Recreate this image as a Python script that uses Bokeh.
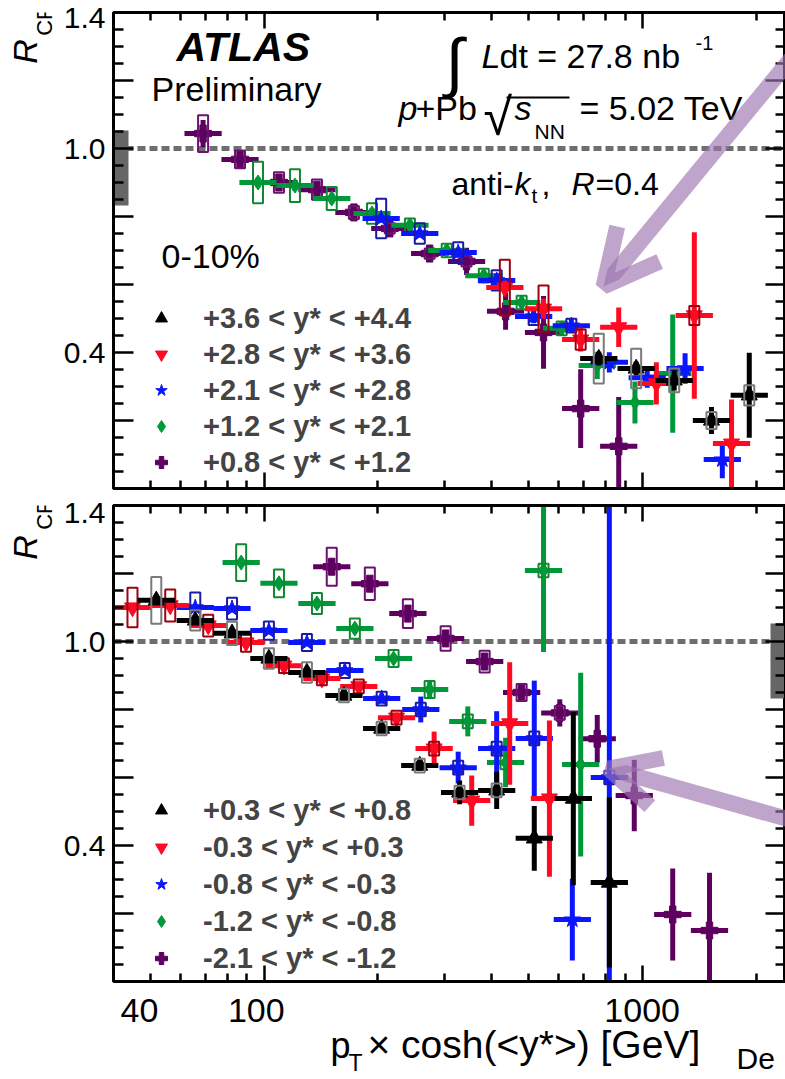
from bokeh.plotting import figure
from bokeh.layouts import column, row
from bokeh.models import (FixedTicker, CustomJSTickFormatter, LinearAxis, LogAxis, Span, Label,
                          Legend, LegendItem, Arrow, OpenHead, BoxAnnotation, Range1d)
from bokeh.embed import file_html
from bokeh.resources import INLINE
import json

FONT = "Liberation Sans"

# ---------------- axes ----------------
X_START, X_END = 40, 2390
Y_START, Y_END = 0.0, 1.4
x_tick_values = [100, 1000]
x_minor_ticks = [50, 60, 70, 80, 90, 200, 300, 400, 500, 600, 700, 800, 900, 2000]
x_label_values = [40, 100, 1000]
x_label_texts = ["40", "100", "1000"]
y_tick_values = [0.2, 0.4, 0.6, 0.8, 1.0, 1.2, 1.4]
y_tick_labels = [" ", "0.4", " ", " ", "1.0", " ", "1.4"]
y_minor_ticks = [round(0.05 * i, 2) for i in range(1, 28) if i % 4]
norm_box = (0.832, 1.053)

# ---------------- top panel: 0-10%, forward rapidities ----------------
t_black_label = "+3.6 < y* < +4.4"
t_black_x = [767, 963, 1214, 1523, 1917]
t_black_y = [0.382, 0.353, 0.318, 0.200, 0.274]
t_black_err = [0.02, 0.02, 0.03, 0.04, 0.125]
t_black_sys = [0.073, 0.058, 0.035, 0.025, 0.03]

t_red_label = "+2.8 < y* < +3.6"
t_red_x = [433, 548, 687, 866, 1089, 1372, 1721]
t_red_y = [0.591, 0.529, 0.438, 0.474, 0.309, 0.509, 0.132]
t_red_err = [0.02, 0.03, 0.035, 0.058, 0.062, 0.245, 0.13]
t_red_sys = [0.082, 0.068, 0.03, 0.0, 0.0, 0.028, 0.0]

t_blue_label = "+2.1 < y* < +2.8"
t_blue_x = [204, 258, 326, 412, 516, 649, 818, 1030, 1297, 1627]
t_blue_y = [0.794, 0.75, 0.694, 0.612, 0.506, 0.479, 0.371, 0.326, 0.353, 0.085]
t_blue_err = [0.012, 0.012, 0.015, 0.02, 0.02, 0.02, 0.03, 0.03, 0.045, 0.055]
t_blue_sys = [0.058, 0.03, 0.03, 0.03, 0.025, 0.02, 0.0, 0.0, 0.0, 0.0]

t_green_label = "+1.2 < y* < +2.1"
t_green_x = [96.4, 120.7, 151, 192.9, 243, 304, 381, 479.6, 612, 760, 956, 1203]
t_green_y = [0.9, 0.891, 0.853, 0.809, 0.774, 0.7, 0.626, 0.547, 0.471, 0.362, 0.253, 0.338]
t_green_err = [0.015, 0.015, 0.015, 0.015, 0.015, 0.015, 0.015, 0.015, 0.02, 0.04, 0.062, 0.174]
t_green_sys = [0.061, 0.048, 0.034, 0.03, 0.02, 0.02, 0.02, 0.02, 0.02, 0.0, 0.0, 0.0]

t_purple_label = "+0.8 < y* < +1.2"
t_purple_x = [69.0, 86.4, 109.5, 138, 172.8, 215, 274, 343, 435, 548, 687, 866]
t_purple_y = [1.044, 0.968, 0.9, 0.879, 0.812, 0.765, 0.691, 0.668, 0.521, 0.459, 0.235, 0.124]
t_purple_err = [0.04, 0.025, 0.015, 0.015, 0.012, 0.015, 0.02, 0.04, 0.054, 0.107, 0.116, 0.145]
t_purple_sys = [0.054, 0.026, 0.03, 0.03, 0.019, 0.015, 0.015, 0.015, 0.0, 0.0, 0.0, 0.0]

# ---------------- bottom panel: backward rapidities ----------------
b_black_label = "+0.3 < y* < +0.8"
b_black_x = [51.9, 65.8, 82.3, 103, 129.8, 162.6, 204.6, 258, 328.8, 412, 518, 657, 818]
b_black_y = [1.121, 1.062, 1.024, 0.95, 0.909, 0.841, 0.744, 0.635, 0.556, 0.562, 0.421, 0.538, 0.291]
b_black_err = [0.01, 0.01, 0.01, 0.01, 0.01, 0.01, 0.012, 0.015, 0.035, 0.055, 0.095, 0.255, 0.25]
b_black_sys = [0.069, 0.03, 0.034, 0.03, 0.03, 0.02, 0.02, 0.02, 0.02, 0.02, 0.0, 0.0, 0.0]

b_red_label = "-0.3 < y* < +0.3"
b_red_x = [44.9, 56.5, 71.2, 89.6, 112.9, 142.2, 178, 224, 281.6, 354, 446, 568]
b_red_y = [1.1, 1.106, 1.047, 0.997, 0.929, 0.891, 0.868, 0.776, 0.685, 0.532, 0.759, 0.538]
b_red_err = [0.01, 0.01, 0.01, 0.01, 0.01, 0.01, 0.01, 0.015, 0.05, 0.074, 0.18, 0.23]
b_red_sys = [0.058, 0.047, 0.032, 0.027, 0.022, 0.02, 0.02, 0.02, 0.02, 0.0, 0.0, 0.0]

b_blue_label = "-0.8 < y* < -0.3"
b_blue_x = [65.8, 82.3, 103, 129.8, 163.5, 204.6, 259.6, 326, 412, 518, 653, 818]
b_blue_y = [1.1, 1.097, 1.032, 0.997, 0.915, 0.832, 0.8, 0.629, 0.685, 0.715, 0.182, 0.6]
b_blue_err = [0.01, 0.01, 0.01, 0.01, 0.01, 0.015, 0.038, 0.047, 0.11, 0.17, 0.12, 0.81]
b_blue_sys = [0.044, 0.032, 0.027, 0.025, 0.022, 0.02, 0.02, 0.02, 0.02, 0.02, 0.0, 0.02]

b_green_label = "-1.2 < y* < -0.8"
b_green_x = [87, 109.5, 138, 173.8, 220, 274, 345.6, 435, 548, 687]
b_green_y = [1.232, 1.171, 1.112, 1.038, 0.95, 0.859, 0.765, 0.644, 1.209, 0.638]
b_green_err = [0.01, 0.01, 0.01, 0.01, 0.012, 0.025, 0.044, 0.073, 0.24, 0.27]
b_green_sys = [0.054, 0.041, 0.031, 0.03, 0.025, 0.025, 0.02, 0.02, 0.02, 0.0]

b_purple_label = "-2.1 < y* < -1.2"
b_purple_x = [151, 190.4, 240, 302, 383, 479.6, 605, 760, 952, 1203, 1505]
b_purple_y = [1.22, 1.17, 1.082, 1.009, 0.941, 0.85, 0.79, 0.714, 0.547, 0.197, 0.15]
b_purple_err = [0.01, 0.01, 0.01, 0.01, 0.012, 0.02, 0.04, 0.07, 0.105, 0.135, 0.17]
b_purple_sys = [0.056, 0.048, 0.042, 0.036, 0.032, 0.025, 0.02, 0.0, 0.0, 0.0, 0.0]

# ---------------- styles ----------------
BAR_F = 1.12
C_BLACK, S_BLACK = "#000000", "#7a7a7a"
C_RED, S_RED = "#ff0a22", "#a0000f"
C_BLUE, S_BLUE = "#0b16ff", "#1a1aa6"
C_GREEN, S_GREEN = "#00993a", "#10882f"
C_PURPLE, S_PURPLE = "#5e005f", "#6d1070"
ARROW_COLOR = "#9d74b0"
BASE_K = 0.37   # compensation of the text baseline placement

STRIP_W = 60
P1_H, P2_H = 495, 490
B_H = 1079 - P1_H - P2_H
F1_BOTTOM = 488          # page y of top frame bottom

x_rng = Range1d(X_START, X_END)

y_fmt_code = ("const v=%s; const l=%s; for (let i=0;i<v.length;i++){ if (Math.abs(tick-v[i])<1e-6) return l[i]; } return ' ';"
              % (json.dumps(y_tick_values), json.dumps(y_tick_labels)))


def style_axis(ax, major_in, minor_in, labels, size="30px", standoff=8):
    ax.axis_line_width = 3
    ax.axis_line_color = "black"
    ax.major_tick_in = major_in
    ax.major_tick_out = 0
    ax.minor_tick_in = minor_in
    ax.minor_tick_out = 0
    ax.major_tick_line_width = 2.5
    ax.minor_tick_line_width = 2.5
    ax.major_tick_line_color = "black"
    ax.minor_tick_line_color = "black"
    ax.major_label_text_font = FONT
    ax.major_label_text_color = "black"
    if labels:
        ax.major_label_text_font_size = size
        ax.major_label_standoff = standoff
    else:
        ax.major_label_text_font_size = "1px"
        ax.major_label_text_alpha = 0
        ax.major_label_standoff = 0


def make_panel(height, top_border, bottom_border):
    p = figure(width=785 - STRIP_W, height=height, x_axis_type="log",
               x_range=x_rng, y_range=(Y_START, Y_END),
               output_backend="svg", toolbar_location=None,
               min_border_left=112 - STRIP_W, min_border_right=0,
               min_border_top=top_border, min_border_bottom=bottom_border)
    p.grid.visible = False
    p.outline_line_color = "black"
    p.outline_line_width = 3
    p.background_fill_color = "white"
    p.border_fill_color = "white"
    xt = FixedTicker(ticks=x_tick_values, minor_ticks=x_minor_ticks)
    yt = FixedTicker(ticks=y_tick_values, minor_ticks=y_minor_ticks)
    p.xaxis.ticker = xt
    p.yaxis.ticker = yt
    p.yaxis.formatter = CustomJSTickFormatter(code=y_fmt_code)
    style_axis(p.xaxis[0], 16, 8, False)
    style_axis(p.yaxis[0], 20, 10, True, "30px", 8)
    top_ax = LogAxis(ticker=xt)
    style_axis(top_ax, 16, 8, False)
    p.add_layout(top_ax, "above")
    right_ax = LinearAxis(ticker=yt)
    style_axis(right_ax, 20, 10, False)
    p.add_layout(right_ax, "right")
    span = Span(location=1.0, dimension="width", line_color="#6e6e6e", line_width=5,
                line_dash="8 4", level="underlay")
    p.add_layout(span)
    return p


def make_strip(width, height, left_border=0, log_x=False):
    kw = dict(width=width, height=height, output_backend="svg", toolbar_location=None,
              min_border_left=left_border, min_border_right=0, min_border_top=0,
              min_border_bottom=0, x_axis_location=None, y_axis_location=None,
              y_range=(0, height))
    if log_x:
        kw.update(x_range=x_rng, x_axis_type="log")
    else:
        kw.update(x_range=(0, width))
    s = figure(**kw)
    s.grid.visible = False
    s.outline_line_color = None
    s.background_fill_color = "white"
    s.border_fill_color = "white"
    return s


def draw_series(p, x, y, err, sys, color, sys_color, marker, size):
    p.segment(x0=x, y0=[a - e for a, e in zip(y, err)], x1=x, y1=[a + e for a, e in zip(y, err)],
              line_color=color, line_width=5)
    p.segment(x0=[v / BAR_F for v in x], y0=y, x1=[v * BAR_F for v in x], y1=y,
              line_color=color, line_width=5)
    r = p.scatter(x=x, y=y, marker=marker, size=size, fill_color=color, line_color=color)
    sx = [a for a, s in zip(x, sys) if s > 0]
    sy = [b for b, s in zip(y, sys) if s > 0]
    sh = [2 * s for s in sys if s > 0]
    p.rect(x=sx, y=sy, width=10, width_units="screen", height=sh,
           fill_alpha=0, line_color=sys_color, line_width=2)
    return r


def lab(p, text, px, py, size, fb, fl=112, style="normal", align="left"):
    """px: page x of anchor, py: page y of baseline, fb: page y of frame bottom, fl: page x of frame left"""
    p.add_layout(Label(x=px - fl, y=fb - py + BASE_K * size, x_units="screen", y_units="screen",
                       text=text, text_font=FONT, text_font_size="%dpx" % size,
                       text_font_style=style, text_align=align, text_baseline="alphabetic",
                       text_color="black"))


def vlab(p, text, cx, cy, size, fb, style="normal"):
    """vertical text reading upward, centred on page point (cx, cy)"""
    p.add_layout(Label(x=cx, y=fb - cy, x_units="screen", y_units="screen",
                       text=text, text_font=FONT, text_font_size="%dpx" % size,
                       text_font_style=style, text_align="center", text_baseline="middle",
                       angle=1.5708, text_color="black"))


def add_legend(p, items, vy, spacing):
    leg = Legend(items=[LegendItem(label=l, renderers=[r]) for l, r in items],
                 location=(33, vy), border_line_color=None, background_fill_alpha=0,
                 padding=0, margin=0, spacing=spacing, glyph_width=30, glyph_height=34,
                 label_height=34, label_standoff=27, label_text_font=FONT,
                 label_text_font_style="bold", label_text_font_size="29px")
    p.add_layout(leg)


def norm(p, xpos):
    p.rect(x=[xpos], y=[(norm_box[0] + norm_box[1]) / 2], width=30, width_units="screen",
           height=[norm_box[1] - norm_box[0]], fill_color="#666666", line_color=None)


# ================= top panel =================
p1 = make_panel(P1_H, 12, 7)
norm(p1, X_START)
r_pu = draw_series(p1, t_purple_x, t_purple_y, t_purple_err, t_purple_sys, C_PURPLE, S_PURPLE, "plus", 17)
r_gr = draw_series(p1, t_green_x, t_green_y, t_green_err, t_green_sys, C_GREEN, S_GREEN, "diamond", 15)
r_bl = draw_series(p1, t_blue_x, t_blue_y, t_blue_err, t_blue_sys, C_BLUE, S_BLUE, "star", 17)
r_re = draw_series(p1, t_red_x, t_red_y, t_red_err, t_red_sys, C_RED, S_RED, "inverted_triangle", 16)
r_bk = draw_series(p1, t_black_x, t_black_y, t_black_err, t_black_sys, C_BLACK, S_BLACK, "triangle", 16)
add_legend(p1, [(t_black_label, r_bk), (t_red_label, r_re), (t_blue_label, r_bl),
                (t_green_label, r_gr), (t_purple_label, r_pu)], 9, 2)

fb = F1_BOTTOM
lab(p1, "ATLAS", 175, 62, 41, fb, style="bold italic")
lab(p1, "Preliminary", 150, 101, 34, fb)
lab(p1, "\u222b", 444, 86, 66, fb)
lab(p1, "L", 480, 68, 34, fb, style="italic")
lab(p1, "dt = 27.8 nb", 498, 68, 34, fb)
lab(p1, "-1", 694, 50, 20, fb)
lab(p1, "p", 397, 120, 34, fb, style="italic")
lab(p1, "+Pb", 414, 120, 34, fb)
lab(p1, "\u221a", 482, 136, 52, fb)
p1.add_layout(BoxAnnotation(left=505 - 112, right=568 - 112, bottom=fb - 98, top=fb - 96,
                            left_units="screen", right_units="screen",
                            top_units="screen", bottom_units="screen",
                            fill_color="black", fill_alpha=1, line_color=None))
lab(p1, "s", 513, 120, 34, fb, style="italic")
lab(p1, "NN", 533, 139, 21, fb)
lab(p1, "= 5.02 TeV", 578, 120, 34, fb)
lab(p1, "anti-", 450, 195, 32, fb)
lab(p1, "k", 513, 195, 32, fb, style="italic")
lab(p1, "t", 530, 203, 21, fb)
lab(p1, ",", 540, 195, 32, fb)
lab(p1, "R", 570, 195, 32, fb, style="italic")
lab(p1, "=0.4", 594, 195, 32, fb)
lab(p1, "0-10%", 160, 268, 34, fb)
p1.add_layout(Arrow(end=OpenHead(size=55, line_width=16, line_color=ARROW_COLOR, line_alpha=0.65),
                    x_start=690, y_start=445, x_end=490, y_end=202,
                    start_units="screen", end_units="screen",
                    line_width=16, line_color=ARROW_COLOR, line_alpha=0.65))

# ================= bottom panel =================
p2 = make_panel(P2_H, 10, 4)
norm(p2, X_END)
q_pu = draw_series(p2, b_purple_x, b_purple_y, b_purple_err, b_purple_sys, C_PURPLE, S_PURPLE, "plus", 17)
q_gr = draw_series(p2, b_green_x, b_green_y, b_green_err, b_green_sys, C_GREEN, S_GREEN, "diamond", 15)
q_bl = draw_series(p2, b_blue_x, b_blue_y, b_blue_err, b_blue_sys, C_BLUE, S_BLUE, "star", 17)
q_re = draw_series(p2, b_red_x, b_red_y, b_red_err, b_red_sys, C_RED, S_RED, "inverted_triangle", 16)
q_bk = draw_series(p2, b_black_x, b_black_y, b_black_err, b_black_sys, C_BLACK, S_BLACK, "triangle", 16)
add_legend(p2, [(b_black_label, q_bk), (b_red_label, q_re), (b_blue_label, q_bl),
                (b_green_label, q_gr), (b_purple_label, q_pu)], 6, 3)
p2.add_layout(Arrow(end=OpenHead(size=50, line_width=16, line_color=ARROW_COLOR, line_alpha=0.65),
                    x_start=690, y_start=158, x_end=495, y_end=213,
                    start_units="screen", end_units="screen",
                    line_width=16, line_color=ARROW_COLOR, line_alpha=0.65))

# ================= left strips: R_CP =================
L1 = make_strip(STRIP_W, P1_H)
vlab(L1, "R", 24, 58, 34, P1_H, style="italic")
vlab(L1, "CP", 44, 27, 22, P1_H)
L2 = make_strip(STRIP_W, P2_H)
vlab(L2, "R", 24, 551 - P1_H, 34, P2_H, style="italic")
vlab(L2, "CP", 44, 518 - P1_H, 22, P2_H)

# ================= bottom strip: x tick labels and axis title =================
B = make_strip(785, B_H, left_border=112, log_x=True)
BB = 1079   # page y of strip bottom
label_offsets = [27, -7, 0]
for v, t, off in zip(x_label_values, x_label_texts, label_offsets):
    B.add_layout(Label(x=v, x_units="data", x_offset=off, y=BB - 1023 + BASE_K * 34,
                       y_units="screen", text=t, text_font=FONT, text_font_size="34px",
                       text_align="center", text_baseline="alphabetic", text_color="black"))
lab(B, "p", 330, 1058, 36, BB)
lab(B, "T", 348, 1071, 23, BB)
lab(B, "\u00d7 cosh(<y*>) [GeV]", 367, 1058, 39, BB)
lab(B, "De", 736, 1069, 30, BB)

layout = column(row(L1, p1, spacing=0), row(L2, p2, spacing=0), B, spacing=0)
open("out.html", "w").write(file_html(layout, INLINE))
